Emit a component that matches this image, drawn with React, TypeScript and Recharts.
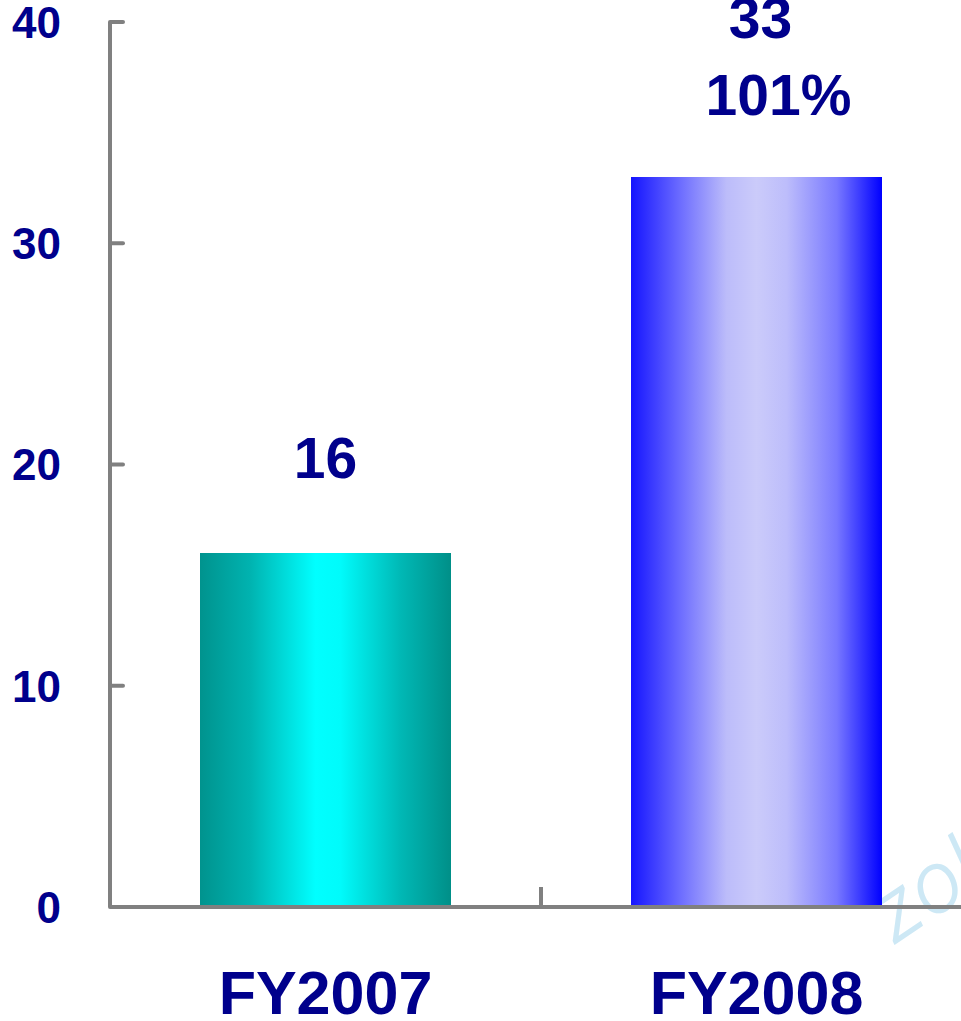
import { BarChart, Bar, Cell, XAxis, YAxis, LabelList } from 'recharts'

const categories = ['FY2007', 'FY2008']
const values = [16, 33]
const growth = ['', '101%']
const yTicks = [0, 10, 20, 30, 40]

const NAVY = '#00008c'
const AXIS = '#808080'
const FONT = '"Liberation Sans", Arial, sans-serif'
const PLOT_LEFT = 110

const data = categories.map((name, i) => ({ name, value: values[i], growth: growth[i] }))

function YTick({ x, y, payload }: any) {
  return (
    <g>
      <line x1={x} y1={y} x2={x + 13} y2={y} stroke={AXIS} strokeWidth={4} strokeLinecap="round" />
      <text x={x - 49} y={y} dy="0.36em" textAnchor="end" fill={NAVY} fontFamily={FONT} fontWeight="bold" fontSize={44}>
        {payload.value}
      </text>
    </g>
  )
}

function XTick({ x, y, payload, index }: any) {
  // divider sits between the two category bands
  const divider = index === 0 ? 2 * x - PLOT_LEFT : null
  return (
    <g>
      {divider !== null && (
        <line x1={divider} y1={y} x2={divider} y2={y - 20} stroke={AXIS} strokeWidth={4} />
      )}
      <text x={x} y={y + 107} textAnchor="middle" fill={NAVY} fontFamily={FONT} fontWeight="bold" fontSize={61}>
        {payload.value}
      </text>
    </g>
  )
}

function ValueLabel({ x, y, width, index }: any) {
  const cx = x + width / 2
  const pct = growth[index]
  // value on its own sits a bit higher; with growth the percentage line goes under it
  const base = y - (pct ? 62 : 75)
  return (
    <g fill={NAVY} fontFamily={FONT} fontWeight="bold" fontSize={57} textAnchor="middle">
      <text x={cx + (pct ? 4 : 0)} y={pct ? base - 77 : base}>
        {values[index]}
      </text>
      {pct && (
        <text x={cx + 22} y={base}>
          {pct}
        </text>
      )}
    </g>
  )
}

export default function App() {
  return (
    <div style={{ position: 'absolute', left: 0, top: 0, width: 961, height: 1021, overflow: 'hidden', background: '#fff' }}>
      {/* faint logo mark behind the chart */}
      <svg width={961} height={1021} style={{ position: 'absolute', left: 0, top: 0 }}>
        <text
          x={893}
          y={946}
          transform="rotate(-34 893 946)"
          fill="#cde8f5"
          fontFamily="Inter, 'DejaVu Sans', sans-serif"
          fontWeight={300}
          fontStyle="italic"
          fontSize={84}
        >
          zol
        </text>
      </svg>
      <div style={{ position: 'absolute', left: 0, top: 0 }}>
        <BarChart width={980} height={1021} data={data} margin={{ top: 22, right: 8, left: 0, bottom: 0 }}>
          <defs>
            <linearGradient id="gTeal" x1="0" y1="0" x2="1" y2="0">
              <stop offset="0" stopColor="#00938e" />
              <stop offset="0.2" stopColor="#00b3b0" />
              <stop offset="0.46" stopColor="#00ffff" />
              <stop offset="0.56" stopColor="#00fbfb" />
              <stop offset="0.8" stopColor="#00b8b5" />
              <stop offset="1" stopColor="#008f88" />
            </linearGradient>
            <linearGradient id="gBlue" x1="0" y1="0" x2="1" y2="0">
              <stop offset="0" stopColor="#1414ff" />
              <stop offset="0.2" stopColor="#6e6eff" />
              <stop offset="0.38" stopColor="#bcbcfa" />
              <stop offset="0.5" stopColor="#cbcbfa" />
              <stop offset="0.62" stopColor="#bdbdfb" />
              <stop offset="0.82" stopColor="#7878ff" />
              <stop offset="1" stopColor="#0000ff" />
            </linearGradient>
          </defs>
          <XAxis
            dataKey="name"
            height={114}
            axisLine={{ stroke: AXIS, strokeWidth: 4 }}
            tickLine={false}
            tickSize={0}
            tickMargin={0}
            tick={<XTick />}
            interval={0}
          />
          <YAxis
            width={PLOT_LEFT}
            domain={[0, 40]}
            ticks={yTicks}
            axisLine={{ stroke: AXIS, strokeWidth: 4 }}
            tickLine={false}
            tickSize={0}
            tickMargin={0}
            tick={<YTick />}
          />
          <Bar dataKey="value" barSize={251} isAnimationActive={false}>
            {data.map((_, i) => (
              <Cell key={i} fill={i === 0 ? 'url(#gTeal)' : 'url(#gBlue)'} />
            ))}
            <LabelList dataKey="value" content={<ValueLabel />} />
          </Bar>
        </BarChart>
      </div>
    </div>
  )
}
